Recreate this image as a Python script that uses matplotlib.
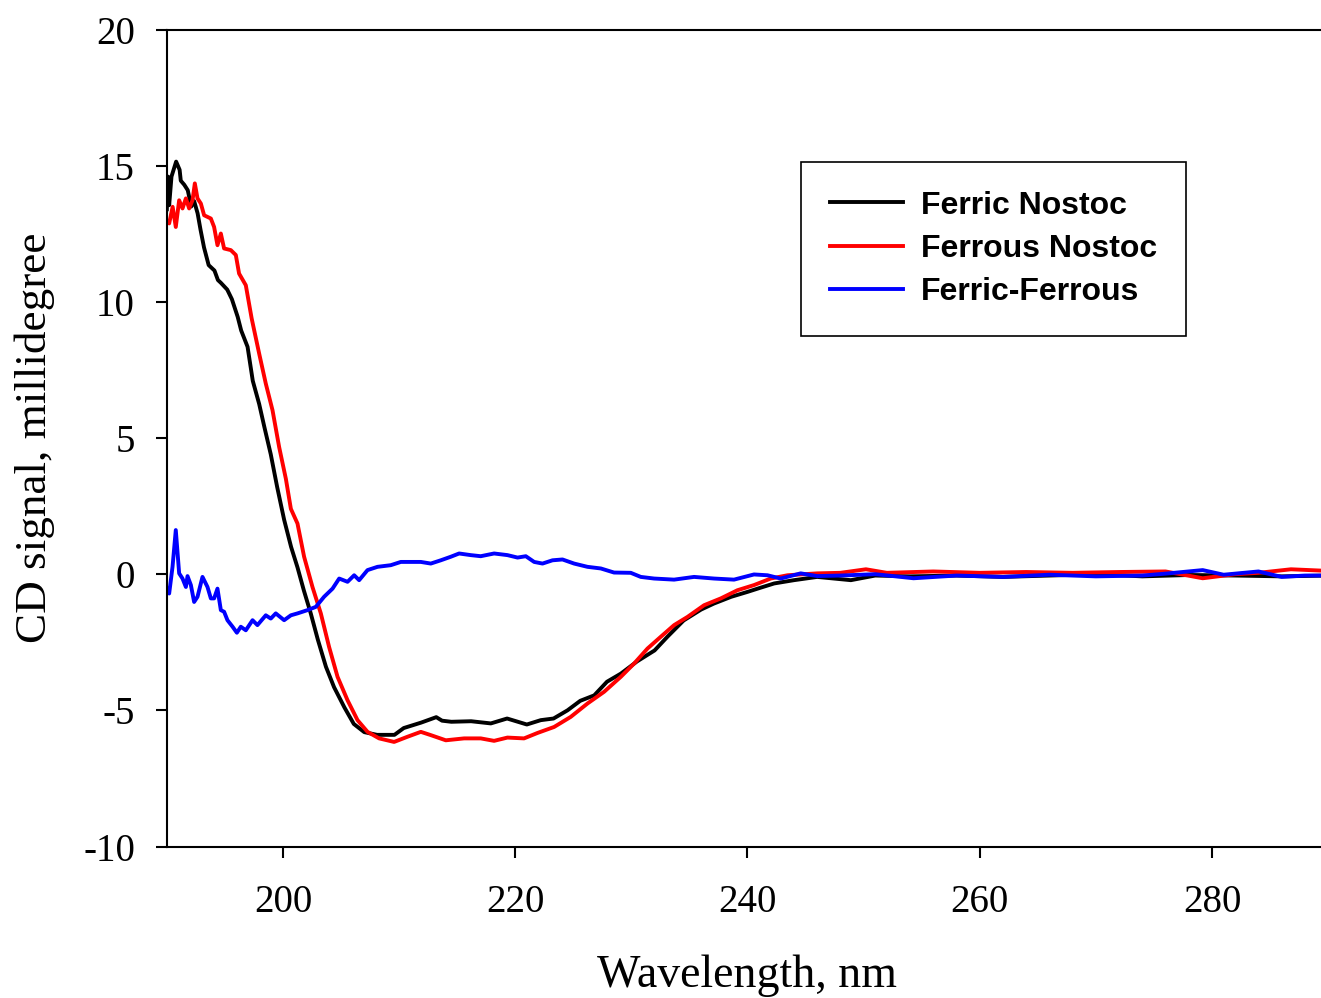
import numpy as np
import matplotlib.pyplot as plt

plt.rcParams['axes.unicode_minus'] = False

# Ferric Nostoc (black)
wl_ferric = [190.0, 190.1, 190.2, 190.4, 190.8, 191.1, 191.2, 191.5, 191.8, 192.1,
             192.35, 192.65, 192.9, 193.2, 193.6, 194.1, 194.4, 194.65, 195.2, 195.6,
             196.1, 196.4, 196.95, 197.4, 197.95, 198.4, 198.95, 199.5, 200.1, 200.7,
             201.25, 201.8, 202.4, 203.0, 203.7, 204.4, 205.3, 206.1, 207.0, 208.1,
             209.6, 210.4, 211.9, 213.2, 213.7, 214.5, 216.2, 217.9, 219.3, 221.0,
             222.2, 223.3, 224.5, 225.6, 226.8, 227.9, 229.1, 230.5, 232.0, 233.1,
             234.5, 236.0, 237.1, 238.6, 240.0, 241.1, 242.3, 244.0, 246.0, 248.9,
             251.0, 254.0, 258.0, 262.0, 266.0, 270.0, 274.0, 278.0, 282.0, 286.0, 290.0]
cd_ferric = [13.4, 14.6, 13.55, 14.6, 15.15, 14.85, 14.45, 14.3, 14.1, 13.5,
             13.7, 13.25, 12.65, 12.0, 11.35, 11.15, 10.8, 10.7, 10.45, 10.1,
             9.45, 8.95, 8.35, 7.1, 6.25, 5.4, 4.4, 3.2, 2.0, 1.0,
             0.25, -0.6, -1.45, -2.4, -3.4, -4.15, -4.9, -5.5, -5.8, -5.9,
             -5.9, -5.65, -5.45, -5.25, -5.38, -5.42, -5.4, -5.48, -5.3, -5.52,
             -5.36, -5.3, -5.0, -4.65, -4.45, -3.95, -3.65, -3.2, -2.8, -2.3,
             -1.7, -1.3, -1.08, -0.83, -0.65, -0.5, -0.34, -0.22, -0.1, -0.22,
             -0.05, -0.08, -0.05, -0.1, -0.05, 0.0, -0.08, -0.03, -0.05, -0.08, -0.05]

# Ferrous Nostoc (red)
wl_ferrous = [190.0, 190.2, 190.5, 190.77, 191.06, 191.35, 191.64, 191.92, 192.21, 192.41,
              192.64, 192.93, 193.21, 193.79, 194.07, 194.36, 194.65, 194.93, 195.51, 195.94,
              196.22, 196.8, 197.3, 197.95, 198.52, 199.1, 199.67, 200.25, 200.68, 201.25,
              201.82, 202.54, 203.26, 203.97, 204.7, 205.56, 206.42, 207.28, 208.28, 209.57,
              210.72, 211.87, 212.73, 214.02, 215.6, 217.03, 218.18, 219.33, 220.76, 221.92,
              223.35, 224.78, 226.22, 227.65, 229.09, 230.24, 231.39, 232.53, 233.68, 234.83,
              236.26, 237.7, 239.13, 240.56, 242.0, 243.44, 246.0, 248.0, 250.2, 252.0,
              256.0, 260.0, 264.0, 268.0, 272.0, 276.0, 279.2, 282.0, 284.0, 286.8, 290.0]
cd_ferrous = [12.94, 12.88, 13.49, 12.75, 13.73, 13.43, 13.8, 13.43, 13.73, 14.35,
              13.8, 13.61, 13.18, 13.06, 12.75, 12.08, 12.51, 11.96, 11.9, 11.72,
              11.04, 10.61, 9.4, 8.1, 7.0, 6.02, 4.67, 3.5, 2.4, 1.86,
              0.64, -0.47, -1.44, -2.67, -3.77, -4.63, -5.36, -5.79, -6.03, -6.16,
              -5.97, -5.79, -5.91, -6.1, -6.03, -6.03, -6.12, -6.0, -6.03, -5.83,
              -5.61, -5.24, -4.75, -4.32, -3.77, -3.28, -2.73, -2.3, -1.87, -1.57,
              -1.14, -0.89, -0.59, -0.4, -0.16, -0.04, 0.03, 0.05, 0.18, 0.05,
              0.1, 0.05, 0.08, 0.05, 0.08, 0.1, -0.15, 0.0, 0.05, 0.18, 0.12]

# Ferric-Ferrous difference (blue)
wl_diff = [190.0, 190.2, 190.49, 190.77, 191.06, 191.35, 191.64, 191.78, 192.07, 192.35,
           192.64, 193.07, 193.5, 193.79, 194.07, 194.36, 194.65, 194.93, 195.22, 195.66,
           196.03, 196.37, 196.8, 197.38, 197.8, 198.52, 198.95, 199.38, 200.1, 200.68,
           201.25, 202.11, 202.83, 203.54, 204.27, 204.84, 205.56, 206.13, 206.56, 207.28,
           208.14, 209.28, 210.15, 211.87, 212.73, 213.59, 214.45, 215.17, 216.17, 217.03,
           218.18, 219.33, 220.2, 220.91, 221.63, 222.35, 223.21, 224.07, 225.07, 226.22,
           227.37, 228.51, 229.95, 230.81, 231.96, 233.68, 235.4, 237.12, 238.84, 240.56,
           241.72, 242.86, 244.58, 246.02, 248.0, 251.0, 254.3, 258.0, 262.0, 266.0,
           270.0, 274.0, 276.0, 279.2, 281.0, 284.0, 286.0, 288.0, 290.0]
cd_diff = [-0.53, -0.71, 0.27, 1.62, 0.03, -0.16, -0.47, -0.07, -0.4, -1.02,
           -0.83, -0.1, -0.47, -0.89, -0.89, -0.53, -1.32, -1.38, -1.69, -1.93,
           -2.15, -1.93, -2.06, -1.69, -1.87, -1.51, -1.63, -1.44, -1.69, -1.51,
           -1.44, -1.32, -1.2, -0.83, -0.53, -0.16, -0.28, -0.04, -0.22, 0.15,
           0.27, 0.33, 0.45, 0.45, 0.39, 0.51, 0.64, 0.76, 0.7, 0.66,
           0.76, 0.7, 0.61, 0.66, 0.45, 0.39, 0.51, 0.54, 0.39, 0.27,
           0.21, 0.06, 0.05, -0.1, -0.16, -0.2, -0.1, -0.16, -0.2, -0.01,
           -0.04, -0.16, 0.03, -0.07, -0.05, 0.0, -0.15, -0.05, -0.1, -0.02,
           -0.08, -0.05, 0.02, 0.15, -0.02, 0.1, -0.1, -0.05, -0.05]

x_ticks = [200, 220, 240, 260, 280]
y_ticks = [-10, -5, 0, 5, 10, 15, 20]

fig = plt.figure(figsize=(13.21, 9.98), dpi=100)
ax = fig.add_axes([0.1263, 0.1518, 0.8791, 0.8186])

ax.plot(wl_ferric, cd_ferric, color="black", linewidth=2.8, label="Ferric Nostoc")
ax.plot(wl_ferrous, cd_ferrous, color="red", linewidth=2.8, label="Ferrous Nostoc")
ax.plot(wl_diff, cd_diff, color="blue", linewidth=2.8, label="Ferric-Ferrous")

ax.set_xlim(190, 290)
ax.set_ylim(-10, 20)
ax.set_xticks(x_ticks)
ax.set_yticks(y_ticks)
ax.set_xticklabels([str(t) for t in x_ticks], family="Liberation Serif", fontsize=28)
ax.set_yticklabels([str(t) for t in y_ticks], family="Liberation Serif", fontsize=28)
ax.tick_params(axis="x", direction="out", length=8, width=1.5, pad=19)
ax.tick_params(axis="y", direction="out", length=8, width=1.5, pad=15)
for s in ax.spines.values():
    s.set_linewidth(1.5)

ax.set_xlabel("Wavelength, nm", family="Liberation Serif", fontsize=33, labelpad=24)
ax.set_ylabel("CD signal, millidegree", family="Liberation Serif", fontsize=32.5, labelpad=20)

leg = ax.legend(loc="upper left", bbox_to_anchor=(0.546, 0.838), borderaxespad=0,
                fancybox=False, edgecolor="black", framealpha=1, handlelength=2.3,
                handletextpad=0.55, borderpad=0.9, labelspacing=0.42,
                prop={"family": "Liberation Sans", "weight": "bold", "size": 23})
leg.get_frame().set_linewidth(1.2)

fig.savefig("out.png", dpi=100)
